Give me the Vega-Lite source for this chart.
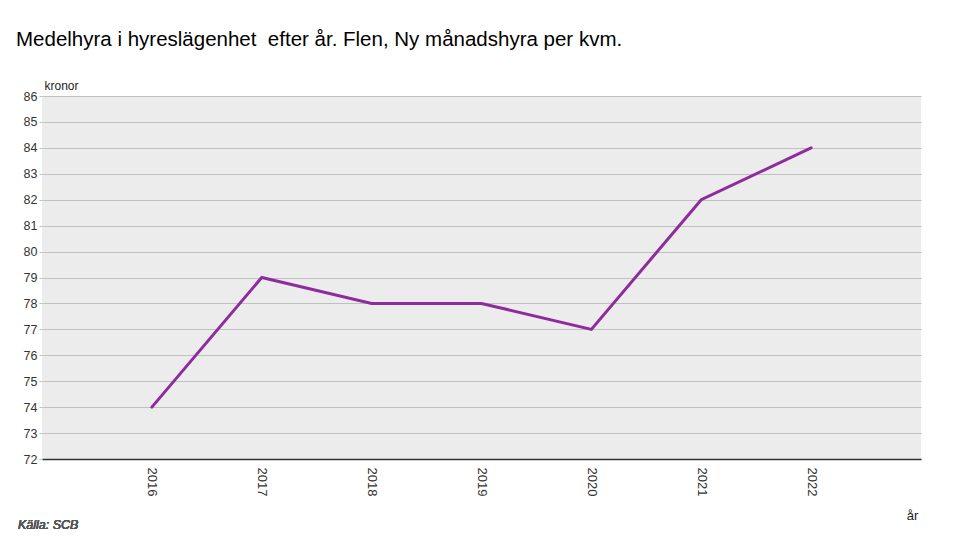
{
  "$schema": "https://vega.github.io/schema/vega-lite/v6.json",
  "width": 879,
  "height": 363,
  "autosize": {"type": "none"},
  "padding": {"left": 42, "top": 96, "right": 59, "bottom": 93},
  "background": "white",
  "title": {
    "text": "Medelhyra i hyreslägenhet\u00a0 efter år. Flen, Ny månadshyra per kvm.",
    "anchor": "start",
    "frame": "group",
    "dx": -26,
    "offset": 29,
    "font": "Liberation Sans",
    "fontSize": 20.5,
    "fontWeight": "normal",
    "color": "#000000"
  },
  "config": {
    "view": {"fill": "#ececec", "stroke": null},
    "font": "Liberation Sans"
  },
  "data": {
    "values": [
      {"year": "2016", "value": 74},
      {"year": "2017", "value": 79},
      {"year": "2018", "value": 78},
      {"year": "2019", "value": 78},
      {"year": "2020", "value": 77},
      {"year": "2021", "value": 82},
      {"year": "2022", "value": 84}
    ]
  },
  "layer": [
    {
      "mark": {"type": "line", "color": "#8e2c9e", "strokeWidth": 3, "strokeCap": "round"},
      "encoding": {
        "x": {
          "field": "year",
          "type": "ordinal",
          "scale": {"type": "point", "padding": 1},
          "axis": {
            "title": "år",
            "titleX": 870,
            "titleY": 56,
            "titleAlign": "center",
            "titleBaseline": "middle",
            "titleFontSize": 13,
            "titleFontWeight": "normal",
            "titleColor": "#222222",
            "labelAngle": 90,
            "labelAlign": "left",
            "labelBaseline": "middle",
            "labelFontSize": 13,
            "labelColor": "#333333",
            "labelPadding": 8,
            "ticks": false,
            "grid": false,
            "domainColor": "#333333",
            "domainWidth": 1.5
          }
        },
        "y": {
          "field": "value",
          "type": "quantitative",
          "scale": {"domain": [72, 86], "nice": false, "zero": false},
          "axis": {
            "values": [72, 73, 74, 75, 76, 77, 78, 79, 80, 81, 82, 83, 84, 85, 86],
            "title": "kronor",
            "titleAngle": 0,
            "titleX": 2,
            "titleY": -4,
            "titleAlign": "left",
            "titleBaseline": "bottom",
            "titleFontSize": 12,
            "titleFontWeight": "normal",
            "titleColor": "#222222",
            "labelFontSize": 12.5,
            "labelColor": "#333333",
            "labelPadding": 2,
            "tickSize": 3,
            "tickColor": "#c0c0c0",
            "domain": false,
            "gridColor": "#c0c0c0",
            "gridWidth": 1
          }
        }
      }
    },
    {
      "mark": {"type": "text", "text": "Källa: SCB", "fontStyle": "italic", "fontWeight": "normal", "fontSize": 12.5, "align": "left", "baseline": "middle", "color": "#555555"},
      "encoding": {
        "x": {"value": -24},
        "y": {"value": 429}
      }
    }
  ]
}
